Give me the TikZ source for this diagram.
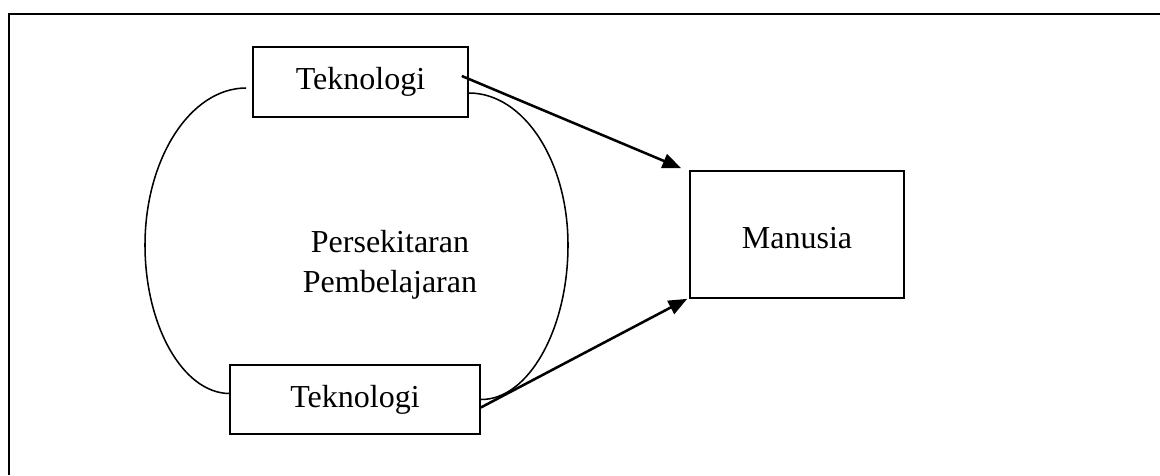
\documentclass[tikz,border=0pt]{standalone}
\usepackage{fontspec}
\setmainfont{Liberation Serif}
\usetikzlibrary{arrows.meta}
\tikzset{
  box/.style={draw, line width=1.2pt, inner sep=0pt, font=\fontsize{24}{30}\selectfont},
  arr/.style={line width=1.9pt, -{Triangle[length=14pt,width=11pt]}},
  loopline/.style={line width=1.15pt},
  frame/.style={line width=2pt}
}
\begin{document}
\begin{tikzpicture}[x=0.75pt,y=-0.75pt]
\useasboundingbox (0,0) rectangle (1160,475);
\draw[frame] (1160,14) -- (9,14) -- (9,475);
\node[box, minimum width=161.25pt, minimum height=52.5pt] (top) at (360.5,82) {Teknologi};
\node[box, minimum width=187.5pt, minimum height=51.75pt] (bot) at (355,399.5) {Teknologi};
\node[box, minimum width=160.5pt, minimum height=95.25pt, text height=21pt, text depth=0pt] (man) at (797,234.5) {Manusia};
\node[align=center, font=\fontsize{24}{30}\selectfont] (env) at (390,265) {Persekitaran\\Pembelajaran};
\draw[loopline] ([shift={(-6,6)}]top.west) .. controls +(-56,0) and (145,159) .. (145,245)
  .. controls (145,326) and (183,393) .. ([shift={(0,-6)}]bot.west);
\draw[loopline] ([shift={(0,11)}]top.east) .. controls +(55,0) and (568,161) .. (568,245)
  .. controls (568,330) and (528,400) .. ([shift={(0,0)}]bot.east);
\draw[arr] ([shift={(-7,-6)}]top.east) -- ([shift={(-8,-2)}]man.north west);
\draw[arr] ([shift={(0,8)}]bot.east) -- ([shift={(-2,0)}]man.south west);
\end{tikzpicture}
\end{document}
